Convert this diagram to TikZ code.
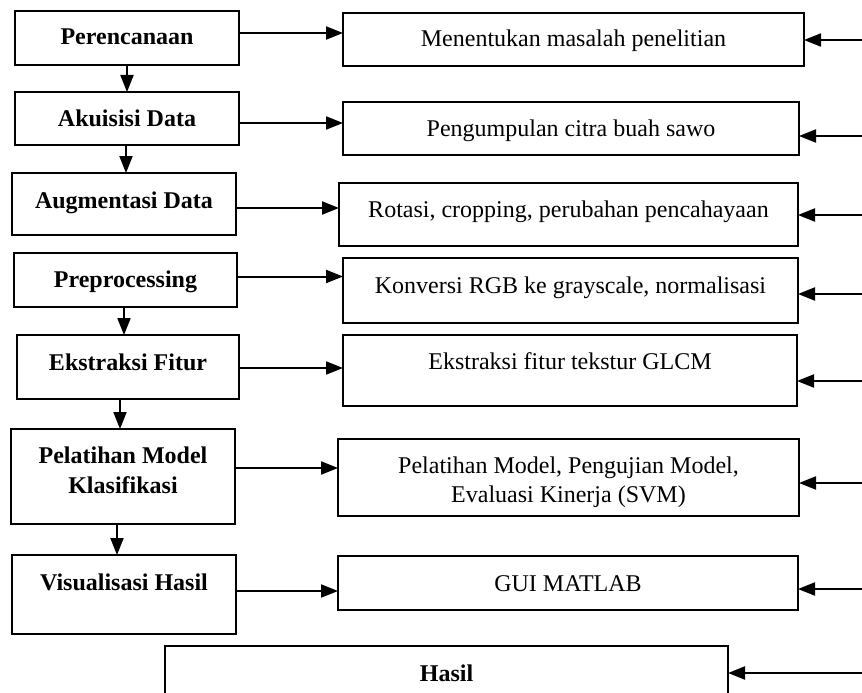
\documentclass[tikz,border=0pt]{standalone}
\usepackage{fontspec}
\setmainfont{Liberation Serif}
\usetikzlibrary{arrows.meta}

\begin{document}
\begin{tikzpicture}[
  x=1pt, y=-1pt,
  font=\fontsize{24}{29}\selectfont,
  box/.style={draw, line width=2.7pt, inner sep=0pt, outer sep=0pt, anchor=north west, align=center},
  stage/.style={box, font=\fontsize{24}{30}\selectfont\bfseries},
  arr/.style={line width=2pt, -{Triangle[length=17pt, width=13pt]}},
  ]
\useasboundingbox (0,0) rectangle (862,693);

\node[stage, minimum width=224pt, text height=34pt, text depth=20pt] (per) at (15,11) {Perencanaan};
\node[stage, minimum width=224pt, text height=34pt, text depth=19pt] (aku) at (15,92) {Akuisisi Data};
\node[stage, minimum width=224pt, text height=35pt, text depth=27pt] (aug) at (12,173) {Augmentasi Data};
\node[stage, minimum width=223pt, text height=34pt, text depth=20pt] (pre) at (14,253) {Preprocessing};
\node[stage, minimum width=222pt, text height=35pt, text depth=29pt] (eks) at (17,335) {Ekstraksi Fitur};
\node[stage, minimum width=224pt, text height=64pt, text depth=31pt] (pel) at (11,429) {Pelatihan Model\\Klasifikasi};
\node[stage, minimum width=224pt, text height=35pt, text depth=44pt] (vis) at (12,555) {Visualisasi Hasil};
\node[stage, minimum width=563pt, text height=35pt, text depth=31pt] (has) at (165,646) {Hasil};

\node[box, minimum width=461pt, text height=34pt, text depth=19pt] (men) at (343,13) {Menentukan masalah penelitian};
\node[box, minimum width=456pt, text height=34pt, text depth=19pt] (pen) at (343,102) {Pengumpulan citra buah sawo};
\node[box, minimum width=459pt, text height=34pt, text depth=29pt] (rot) at (339,183) {Rotasi, cropping, perubahan pencahayaan};
\node[box, minimum width=455pt, text height=35pt, text depth=30pt] (kon) at (343,258) {Konversi RGB ke grayscale, normalisasi};
\node[box, minimum width=454pt, text height=34pt, text depth=37pt] (glcm) at (343,335) {Ekstraksi fitur tekstur GLCM};
\node[box, minimum width=461pt, text height=63pt, text depth=14pt] (svm) at (338,439) {Pelatihan Model, Pengujian Model,\\Evaluasi Kinerja (SVM)};
\node[box, minimum width=460pt, text height=35pt, text depth=19pt] (gui) at (338,556) {GUI MATLAB};

\foreach \a/\b/\s in {per/aku/0, aku/aug/-1, pre/eks/-1.5, eks/pel/-8, pel/vis/-6} {
  \coordinate (d-\a) at ([xshift=\s pt]\a.south);
  \draw[arr] (d-\a) -- (d-\a |- \b.north);
}
\foreach \a/\b/\s in {per/men/5, aku/pen/-4.5, aug/rot/-4, pre/kon/3.5, eks/glcm/-1, pel/svm/8.5, vis/gui/3.5} {
  \coordinate (o-\a) at ([yshift=\s pt]\a.east);
  \draw[arr] (o-\a) -- (o-\a -| \b.west);
}
\foreach \n/\y in {men/40, pen/136, rot/215, kon/294, glcm/381, svm/483, gui/589, has/673} {
  \coordinate (in-\n) at (862,\y);
  \draw[arr] (in-\n) -- (in-\n -| \n.east);
}
\end{tikzpicture}
\end{document}
